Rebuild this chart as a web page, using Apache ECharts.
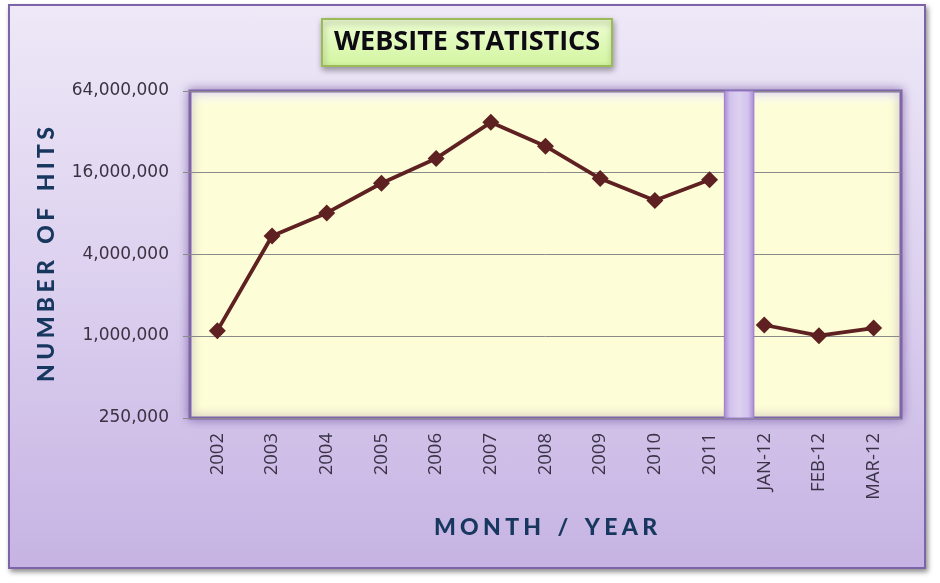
<!DOCTYPE html>
<html>
<head>
<meta charset="utf-8">
<script src="https://cdn.jsdelivr.net/npm/echarts@6/dist/echarts.min.js"></script>
<style>
  html, body { margin: 0; padding: 0; background: #ffffff; }
  #frame {
    position: absolute; left: 8px; top: 4px; width: 914px; height: 561px;
    border: 2px solid #7d63a8;
    background: linear-gradient(to bottom, #eee8f7 0%, #dcd0ef 50%, #c6b3e3 100%);
    box-shadow: 2px 3px 5px rgba(0,0,0,0.45);
  }
  #chart { position: absolute; left: 0; top: 0; width: 940px; height: 583px; }
</style>
</head>
<body>
<div id="frame"></div>
<div id="chart"></div>
<script>
// ---- data ----
const categories = ['2002', '2003', '2004', '2005', '2006', '2007', '2008', '2009', '2010', '2011', 'JAN-12', 'FEB-12', 'MAR-12'];
const yearlyHits = [1100000, 5480000, 8100000, 13400000, 20400000, 37600000, 25100000, 14500000, 10000000, 14200000];
const monthlyHits = [1210000, 1010000, 1150000];
const yTickValues = [250000, 1000000, 4000000, 16000000, 64000000];
const titleText = 'WEBSITE STATISTICS';
const yAxisName = 'NUMBER OF HITS';
const xAxisName = 'MONTH / YEAR';

// ---- build series data ----
const yearlySeries = yearlyHits.concat(monthlyHits.map(() => null));
const monthlySeries = yearlyHits.map(() => null).concat(monthlyHits);

function spaced(s) {
  return s.split(' ').map(w => w.split('').join('\u2009\u200A')).join('   ');
}
function fmt(v) {
  // snap the log-scale tick value to the nearest listed tick label
  let best = yTickValues[0];
  yTickValues.forEach(t => { if (Math.abs(Math.log(t / v)) < Math.abs(Math.log(best / v))) best = t; });
  return best.toString().replace(/\B(?=(\d{3})+(?!\d))/g, ',');
}

const chart = echarts.init(document.getElementById('chart'), null, { renderer: 'canvas' });
const lineColor = '#5e2020';

const option = {
  animation: false,
  backgroundColor: 'transparent',
  title: {
    text: titleText,
    left: 322,
    top: 19,
    padding: [10, 12, 10, 12],
    backgroundColor: new echarts.graphic.LinearGradient(0, 0, 0, 1, [
      { offset: 0, color: '#edfdd4' },
      { offset: 1, color: '#d3f59f' }
    ]),
    borderColor: '#9bbb59',
    borderWidth: 2,
    shadowBlur: 6,
    shadowOffsetX: 1,
    shadowOffsetY: 3,
    shadowColor: 'rgba(0,0,0,0.35)',
    textStyle: {
      fontFamily: 'Open Sans',
      fontWeight: 'bold',
      fontSize: 27,
      color: '#0d0a14'
    }
  },
  grid: {
    left: 190,
    right: 39,
    top: 91,
    bottom: 165,
    show: true,
    backgroundColor: new echarts.graphic.LinearGradient(0, 0, 0, 1, [
      { offset: 0, color: '#ffffff' },
      { offset: 0.05, color: '#fdfdd8' },
      { offset: 1, color: '#fdfdd6' }
    ]),
    borderColor: '#7f64aa',
    borderWidth: 3,
    shadowBlur: 10,
    shadowColor: 'rgba(90,60,140,0.55)'
  },
  xAxis: [
    {
      type: 'category',
      data: categories,
      boundaryGap: true,
      axisLine: { show: false },
      axisTick: { show: false },
      splitLine: { show: false },
      axisLabel: {
        rotate: 90,
        margin: 15,
        fontFamily: 'Open Sans',
        fontSize: 18.5,
        color: '#3a3347'
      },
      name: spaced(xAxisName),
      nameLocation: 'middle',
      nameGap: 98,
      nameTextStyle: {
        fontFamily: 'Lato',
        fontWeight: 900,
        fontSize: 23,
        color: '#17375e'
      }
    },
    {
      type: 'value',
      min: 0,
      max: categories.length,
      show: false
    }
  ],
  yAxis: {
    type: 'log',
    logBase: 4,
    min: yTickValues[0],
    max: yTickValues[yTickValues.length - 1],
    interval: 1,
    axisLine: { show: false },
    axisTick: { show: true, length: 7, lineStyle: { color: '#8a8a8a' } },
    splitLine: { show: true, lineStyle: { color: '#8a8a8a', width: 1 } },
    minorTick: { show: false },
    minorSplitLine: { show: false },
    axisLabel: {
      margin: 21,
      fontFamily: 'DejaVu Sans',
      fontSize: 17,
      color: '#3b3142',
      formatter: fmt
    },
    name: spaced(yAxisName),
    nameLocation: 'middle',
    nameGap: 132,
    nameTextStyle: {
      fontFamily: 'Lato',
      fontWeight: 900,
      fontSize: 23,
      color: '#17375e'
    }
  },
  series: [
    {
      type: 'line',
      data: yearlySeries,
      symbol: 'diamond',
      symbolSize: 17,
      connectNulls: false,
      lineStyle: { color: lineColor, width: 3.8 },
      itemStyle: { color: lineColor },
      z: 5
    },
    {
      type: 'line',
      data: monthlySeries,
      symbol: 'diamond',
      symbolSize: 17,
      connectNulls: false,
      lineStyle: { color: lineColor, width: 3.8 },
      itemStyle: { color: lineColor },
      z: 5
    },
    {
      type: 'line',
      xAxisIndex: 1,
      data: [[10, yTickValues[1]]],
      showSymbol: false,
      symbol: 'none',
      lineStyle: { width: 0, opacity: 0 },
      silent: true,
      z: 3,
      markArea: {
        silent: true,
        itemStyle: {
          color: new echarts.graphic.LinearGradient(0, 0, 1, 0, [
            { offset: 0, color: '#a585d2' },
            { offset: 0.2, color: '#d2c2ec' },
            { offset: 0.5, color: '#ddd1f1' },
            { offset: 0.8, color: '#d2c2ec' },
            { offset: 1, color: '#a585d2' }
          ]),
          borderColor: '#9c7ccc',
          borderWidth: 1
        },
        data: [[{ xAxis: 9.77 }, { xAxis: 10.31 }]]
      }
    }
  ]
};
chart.setOption(option);
</script>
</body>
</html>
